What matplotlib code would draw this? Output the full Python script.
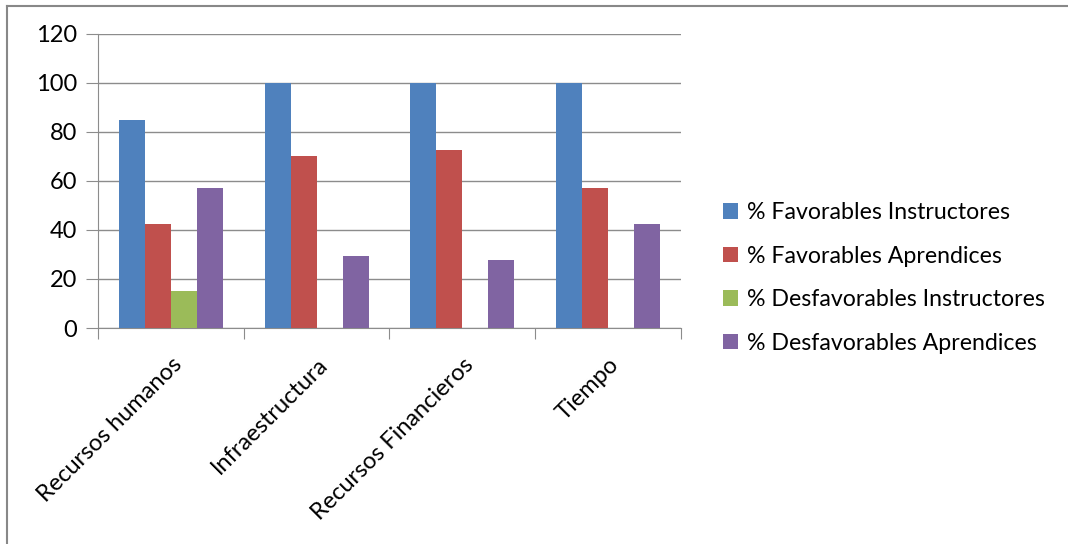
import numpy as np
import matplotlib
matplotlib.use("Agg")
import matplotlib.pyplot as plt
from matplotlib.lines import Line2D
from matplotlib.patches import Patch

plt.rcParams["font.family"] = ["Lato", "DejaVu Sans"]

categorias = ["Recursos humanos", "Infraestructura", "Recursos Financieros", "Tiempo"]
series = [
    "% Favorables Instructores",
    "% Favorables Aprendices",
    "% Desfavorables Instructores",
    "% Desfavorables Aprendices",
]
fav_instructores = [85, 100, 100, 100]
fav_aprendices = [42.3, 70.3, 72.6, 57.2]
desfav_instructores = [15, 0, 0, 0]
desfav_aprendices = [57.2, 29.4, 27.6, 42.3]
colores = ["#4F81BD", "#C0504D", "#9BBB59", "#8064A2"]

valores = [fav_instructores, fav_aprendices, desfav_instructores, desfav_aprendices]

fig = plt.figure(figsize=(10.68, 5.44), dpi=100)
ax = fig.add_axes([0.0918, 0.397, 0.5458, 0.541])

x = np.arange(len(categorias))
ancho = 0.178
for i, (vals, c) in enumerate(zip(valores, colores)):
    ax.bar(x + (i - 1.5) * ancho, vals, ancho, color=c, edgecolor="none", zorder=3)

ax.set_xlim(-0.5, len(categorias) - 0.5)
ax.set_ylim(0, 120)
ax.set_yticks(range(0, 121, 20))
ax.yaxis.grid(True, color="#8c8c8c", linewidth=1.0, zorder=0)
for s in ["top", "right"]:
    ax.spines[s].set_visible(False)
for s in ["left", "bottom"]:
    ax.spines[s].set_color("#8c8c8c")
ax.tick_params(axis="y", length=9, color="#8c8c8c", labelsize=17, pad=6)

# ticks at category boundaries
ax.set_xticks(np.arange(len(categorias) + 1) - 0.5)
ax.set_xticklabels([])
ax.tick_params(axis="x", length=8, color="#8c8c8c")
for xi, lab in zip(x, categorias):
    ax.text(xi + 0.0, -10.5, lab, rotation=45, ha="right", va="top",
            rotation_mode="anchor", fontsize=17, transform=ax.transData,
            clip_on=False)

handles = [Patch(facecolor=c, edgecolor="none") for c in colores]
fig.legend(handles, series, loc="upper left", bbox_to_anchor=(0.657, 0.667),
           frameon=False, fontsize=16.7, handlelength=0.65, handleheight=0.65,
           handletextpad=0.4, labelspacing=0.97)

# outer frame
fig.add_artist(Line2D([7 / 1068, 1.0], [1 - 6 / 544] * 2, color="#888888", lw=1.5))
fig.add_artist(Line2D([7 / 1068] * 2, [0.0, 1 - 6 / 544], color="#888888", lw=1.5))

fig.savefig("out.png", dpi=100)
